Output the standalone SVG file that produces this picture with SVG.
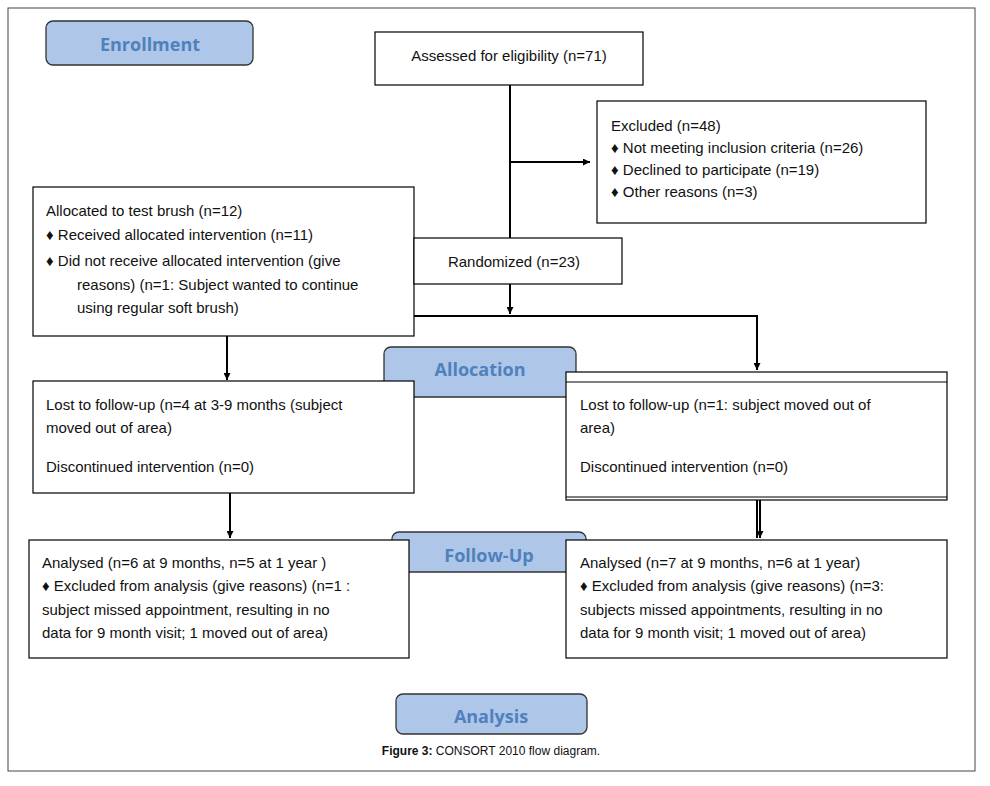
<svg xmlns="http://www.w3.org/2000/svg" width="990" height="786" viewBox="0 0 990 786">
<defs>
<marker id="ah" viewBox="0 0 10 10" refX="10" refY="5" markerWidth="7" markerHeight="7" orient="auto" markerUnits="userSpaceOnUse"><path d="M0,0 L10,5 L0,10 z" fill="#000"/></marker>
<style>
.box{fill:#fff;stroke:#000;stroke-width:1.2}
.t{font-family:"Liberation Sans",Arial,sans-serif;font-size:15px;fill:#111}
.tab{fill:#aec6e8;stroke:#333;stroke-width:1.3}
.h{font-family:"Open Sans","DejaVu Sans",sans-serif;font-size:18px;font-weight:bold;fill:#4f81bd;text-anchor:middle}
.c{stroke:#000;stroke-width:2;fill:none}
</style>
</defs>
<rect width="990" height="786" fill="#fff"/>
<rect x="8" y="8" width="967" height="763" fill="none" stroke="#444" stroke-width="1"/>
<g id="enrollment"><rect class="tab" x="46" y="21" width="207" height="44" rx="7"/><text class="h" x="150" y="51">Enrollment</text></g>
<g id="allocation"><rect class="tab" x="384" y="347" width="192" height="50" rx="7"/><text class="h" x="480" y="376">Allocation</text></g>
<g id="followup"><rect class="tab" x="392" y="532" width="194" height="40" rx="7"/><text class="h" x="489" y="562">Follow-Up</text></g>
<g id="analysis"><rect class="tab" x="396" y="694" width="191" height="40" rx="7"/><text class="h" x="491" y="723">Analysis</text></g>
<g id="connectors">
<line class="c" x1="510" y1="85" x2="510" y2="238"/>
<line class="c" x1="510" y1="162" x2="590" y2="162" marker-end="url(#ah)"/>
<line class="c" x1="510" y1="284" x2="510" y2="314" marker-end="url(#ah)"/>
<polyline class="c" points="414,316 757,316 757,370" marker-end="url(#ah)"/>
<line class="c" x1="227" y1="336" x2="227" y2="380" marker-end="url(#ah)"/>
<line class="c" x1="230" y1="493" x2="230" y2="538" marker-end="url(#ah)"/>
<line class="c" x1="757" y1="500" x2="757" y2="538"/>
<line class="c" x1="760" y1="500" x2="760" y2="538" marker-end="url(#ah)"/>
</g>
<g id="assessed"><rect class="box" x="375" y="32" width="268" height="53"/><text class="t" x="509" y="61" text-anchor="middle">Assessed for eligibility (n=71)</text></g>
<g id="excluded"><rect class="box" x="597" y="101" width="329" height="122"/>
<text class="t" x="611" y="131">Excluded  (n=48)</text>
<text class="t" x="611" y="153">♦  Not meeting inclusion criteria (n=26)</text>
<text class="t" x="611" y="175">♦  Declined to participate (n=19)</text>
<text class="t" x="611" y="197">♦ Other reasons (n=3)</text></g>
<g id="allocated"><rect class="box" x="33" y="187" width="381" height="149"/>
<text class="t" x="46" y="216">Allocated to test brush (n=12)</text>
<text class="t" x="46" y="240">♦ Received allocated intervention (n=11)</text>
<text class="t" x="46" y="266">♦ Did not receive allocated intervention (give</text>
<text class="t" x="77" y="290">reasons) (n=1: Subject wanted to continue</text>
<text class="t" x="77" y="313">using regular soft brush)</text></g>
<g id="randomized"><rect class="box" x="414" y="238" width="208" height="46"/><text class="t" x="514" y="267" text-anchor="middle">Randomized (n=23)</text></g>
<g id="lost-left"><rect class="box" x="33" y="381" width="381" height="112"/>
<text class="t" x="46" y="410">Lost to follow-up (n=4 at 3-9 months (subject</text>
<text class="t" x="46" y="433">moved out of area)</text>
<text class="t" x="46" y="472">Discontinued intervention (n=0)</text></g>
<g id="lost-right"><rect class="box" x="566" y="372" width="381" height="128"/>
<line x1="566" y1="382" x2="947" y2="382" stroke="#000" stroke-width="1.2"/>
<line x1="566" y1="497" x2="947" y2="497" stroke="#000" stroke-width="1.2"/>
<text class="t" x="580" y="410">Lost to follow-up (n=1: subject moved out of</text>
<text class="t" x="580" y="433">area)</text>
<text class="t" x="580" y="472">Discontinued intervention (n=0)</text></g>
<g id="analysed-left"><rect class="box" x="29" y="540" width="380" height="118"/>
<text class="t" x="42" y="568">Analysed  (n=6 at 9 months, n=5 at 1 year )</text>
<text class="t" x="42" y="591">♦ Excluded from analysis (give reasons) (n=1 :</text>
<text class="t" x="42" y="615">subject missed appointment, resulting in no</text>
<text class="t" x="42" y="638">data for 9 month visit; 1 moved out of area)</text></g>
<g id="analysed-right"><rect class="box" x="566" y="540" width="381" height="118"/>
<text class="t" x="580" y="568">Analysed  (n=7 at 9 months, n=6 at 1 year)</text>
<text class="t" x="580" y="591">♦ Excluded from analysis (give reasons) (n=3:</text>
<text class="t" x="580" y="615">subjects missed appointments, resulting in no</text>
<text class="t" x="580" y="638">data for 9 month visit; 1 moved out of area)</text></g>
<text x="491" y="755" text-anchor="middle" font-family="Liberation Sans,Arial,sans-serif" font-size="12" fill="#111"><tspan font-weight="bold">Figure 3:</tspan> CONSORT 2010 flow diagram.</text>
</svg>
